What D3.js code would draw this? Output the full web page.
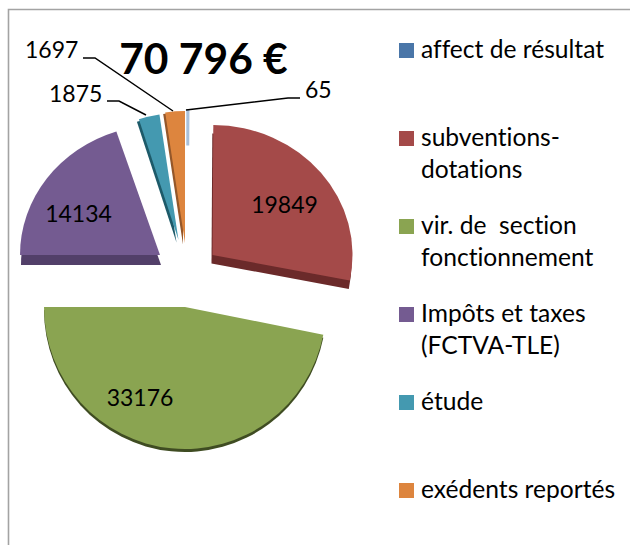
<!DOCTYPE html>
<html><head><meta charset="utf-8">
<script src="https://cdn.jsdelivr.net/npm/d3@7"></script>
<style>html,body{margin:0;padding:0;background:#fff}svg{display:block}text{font-family:Lato,Carlito,sans-serif;fill:#000;white-space:pre;font-variant-ligatures:none}</style>
</head><body><div id="c"></div>
<script>
const categories = ["affect de résultat","subventions-\ndotations","vir. de  section\nfonctionnement","Impôts et taxes\n(FCTVA-TLE)","étude","exédents reportés"];
const values = [65,19849,33176,14134,1875,1697];
const colors = ["#4a76a8","#a44a49","#8aa451","#745b91","#4499b0","#dd853e"];
const sideColors = ["#a9c0d9","#6b2a2a","#3f4c22","#523f69","#1d5a69","#94572a"];
const title = "70 796 €";

// exploded 3-D look: apex, radii and wall offset of each slice
const layout = [
 {cx:187.5,cy:243,rx:131,ry:132,dx:0,dy:0,inner:98,stroke:2.4,fill:"#a9c0d9"},
 {cx:212.5,cy:255,rx:140,ry:130,dx:-1,dy:8.5},
 {cx:185,cy:307,rx:141,ry:142,dx:0,dy:3},
 {cx:160,cy:255,rx:140,ry:130,dx:1,dy:10},
 {cx:178.5,cy:240,rx:127,ry:127,dx:-2,dy:2.5},
 {cx:185,cy:243,rx:132,ry:132,dx:-2,dy:1.5}
];
const labelPos = [
 {x:305,y:98,anchor:"start",line:[[186,110],[288,98],[300,98]]},
 {x:284.5,y:213},{x:140,y:406},{x:78.5,y:222},
 {x:49,y:102,anchor:"start",line:[[107,101],[119,101],[146,115]]},
 {x:25,y:58,anchor:"start",line:[[83,58],[95,58],[173,111]]}
];

const W=630,H=545;
const svg=d3.select("#c").append("svg").attr("width",W).attr("height",H);

// frame
svg.append("path").attr("d","M8.5,545V9.5H630").attr("fill","none").attr("stroke","#a3a3a3").attr("stroke-width",1.6);

const pie=d3.pie().sort(null).value(d=>d);
const arcs=pie(values);
const arc=d3.arc();
const slicePath=(a,i)=>arc({innerRadius:layout[i].inner||0,outerRadius:layout[i].rx,startAngle:a.startAngle,endAngle:a.endAngle});

const gSides=svg.append("g"), gTops=svg.append("g");
arcs.forEach((a,i)=>{
  const L=layout[i], sy=L.ry/L.rx;
  if(L.dy||L.dx){
    gSides.append("path").attr("d",slicePath(a,i))
      .attr("transform",`translate(${L.cx+L.dx},${L.cy+L.dy}) scale(1,${sy})`)
      .attr("fill",sideColors[i]);
  }
  const p=gTops.append("path").attr("d",slicePath(a,i))
      .attr("transform",`translate(${L.cx},${L.cy}) scale(1,${sy})`)
      .attr("fill",L.fill||colors[i]);
  if(L.stroke) p.attr("stroke",L.fill).attr("stroke-width",L.stroke);
});

// labels and leaders
const line=d3.line();
labelPos.forEach((P,i)=>{
  if(P.line) svg.append("path").attr("d",line(P.line)).attr("fill","none").attr("stroke","#000").attr("stroke-width",1.5);
  svg.append("text").attr("x",P.x).attr("y",P.y).attr("text-anchor",P.anchor||"middle")
     .attr("font-size",23).text(values[i]);
});
svg.append("text").attr("x",203.5).attr("y",74).attr("text-anchor","middle")
   .attr("font-size",42.5).attr("font-weight",700).text(title);

// legend
const ly=d3.scaleLinear().domain([0,5]).range([43,483]);
const lg=svg.append("g").selectAll("g").data(categories).join("g").attr("transform",(d,i)=>`translate(399,${ly(i)})`);
lg.append("rect").attr("width",15).attr("height",15).attr("fill",(d,i)=>colors[i]);
lg.each(function(d){
  d.split("\n").forEach((t,j)=>{
    d3.select(this).append("text").attr("x",22).attr("y",15+j*32).attr("font-size",24.6).text(t);
  });
});
</script></body></html>
